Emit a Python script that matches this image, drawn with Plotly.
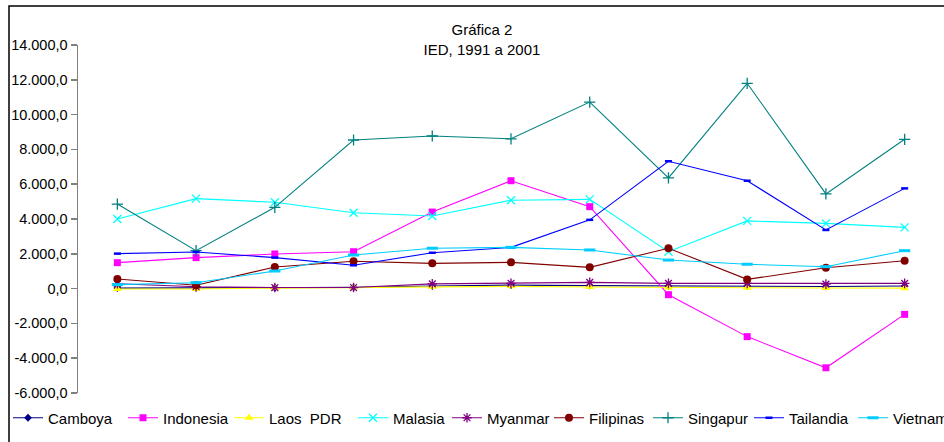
import plotly.graph_objects as go

years = [1991, 1992, 1993, 1994, 1995, 1996, 1997, 1998, 1999, 2000, 2001]

camboya = [30, 40, 50, 70, 150, 200, 170, 150, 160, 120, 150]
indonesia = [1490, 1780, 1990, 2120, 4400, 6200, 4710, -350, -2760, -4550, -1480]
laos = [-20, -20, 30, 60, 90, 130, 90, 50, 50, 35, 25]
malasia = [4000, 5170, 4960, 4360, 4170, 5080, 5130, 2120, 3890, 3750, 3520]
myanmar = [280, 110, 60, 60, 270, 300, 360, 300, 300, 260, 300]
filipinas = [550, 190, 1240, 1570, 1450, 1510, 1220, 2320, 530, 1200, 1600]
singapur = [4860, 2180, 4670, 8540, 8770, 8610, 10720, 6360, 11800, 5440, 8580]
tailandia = [2010, 2100, 1780, 1340, 2060, 2370, 3950, 7320, 6200, 3370, 5760]
vietnam = [230, 340, 1010, 1930, 2320, 2370, 2220, 1640, 1400, 1260, 2180]

series_names = ["Camboya", "Indonesia", "Laos\u00a0 PDR", "Malasia", "Myanmar",
                "Filipinas", "Singapur", "Tailandia", "Vietnam"]
series_values = [camboya, indonesia, laos, malasia, myanmar,
                 filipinas, singapur, tailandia, vietnam]

tick_values = [-6000, -4000, -2000, 0, 2000, 4000, 6000, 8000, 10000, 12000, 14000]
tick_labels = ["-6.000,0", "-4.000,0", "-2.000,0", "0,0", "2.000,0", "4.000,0",
               "6.000,0", "8.000,0", "10.000,0", "12.000,0", "14.000,0"]

title_text = "Gráfica 2<br>IED, 1991 a 2001"

# styles
colors = ["#000080", "#FF00FF", "#FFFF00", "#00FFFF", "#800080",
          "#800000", "#008080", "#0000FF", "#00CCFF"]
markers = [
    dict(symbol="diamond", size=6),
    dict(symbol="square", size=7),
    dict(symbol="triangle-up", size=8),
    dict(symbol="x-thin", size=8, line=dict(width=1.3)),
    dict(symbol="asterisk", size=8, line=dict(width=1.3)),
    dict(symbol="circle", size=8),
    dict(symbol="cross-thin", size=8, line=dict(width=1.3)),
    dict(symbol="line-ew", size=5, line=dict(width=2.5)),
    dict(symbol="line-ew", size=8, line=dict(width=3)),
]

FONT = "Liberation Sans, Arial, sans-serif"
W, H = 944, 442
L, R, T, B = 78, 0, 45, 49
plot_w = W - L - R
plot_h = H - T - B

def px_to_paper_x(px):
    return (px - L) / plot_w

def py_to_paper_y(py):
    return (H - B - py) / plot_h

legend_text_x = [47, 162, 268, 392, 486, 588, 687, 788, 892]
legend_center_y = 418

fig = go.Figure()
for i, (name, vals) in enumerate(zip(series_names, series_values)):
    mk = dict(markers[i])
    mk["color"] = colors[i]
    if "line" in mk:
        mk["line"] = dict(mk["line"], color=colors[i])
    lg = "legend" if i == 0 else f"legend{i+1}"
    fig.add_trace(go.Scatter(
        x=years, y=vals, name=name, mode="lines+markers",
        line=dict(color=colors[i], width=1.1),
        marker=mk, legend=lg,
    ))

layout_legends = {}
for i, tx in enumerate(legend_text_x):
    key = "legend" if i == 0 else f"legend{i+1}"
    layout_legends[key] = dict(
        x=px_to_paper_x(tx - 39), xref="paper", xanchor="left",
        y=py_to_paper_y(legend_center_y), yref="paper", yanchor="middle",
        orientation="h", font=dict(family=FONT, size=15, color="#000000"),
        bgcolor="rgba(0,0,0,0)", borderwidth=0, itemwidth=30,
    )

fig.update_layout(
    width=W, height=H,
    margin=dict(l=L, r=R, t=T, b=B, pad=0, autoexpand=False),
    paper_bgcolor="#FFFFFF", plot_bgcolor="#FFFFFF",
    font=dict(family=FONT, size=15, color="#000000"),
    separators=",.",
    showlegend=True,
    title=dict(text=title_text, x=482 / W, xref="container", xanchor="center",
               y=1 - 35 / H, yref="container", yanchor="top",
               font=dict(family=FONT, size=15, color="#000000")),
    xaxis=dict(range=[years[0] - 0.5, years[-1] + 0.5], visible=False,
               showgrid=False, zeroline=False),
    yaxis=dict(range=[tick_values[0], tick_values[-1]], tickvals=tick_values,
               ticktext=tick_labels, showgrid=False, zeroline=False,
               showline=True, linecolor="#808080", linewidth=1.5,
               ticks="outside", ticklen=6, tickcolor="#808080", tickwidth=1.5,
               tickfont=dict(family=FONT, size=14.5, color="#000000")),
    shapes=[dict(type="rect", xref="paper", yref="paper",
                 x0=px_to_paper_x(9), x1=px_to_paper_x(1000),
                 y0=py_to_paper_y(500), y1=py_to_paper_y(6),
                 line=dict(color="#000000", width=1.5), layer="above")],
    **layout_legends,
)

fig.write_html("out.html",
               config={"displayModeBar": False, "staticPlot": True},
               post_script="document.body.style.margin='0';document.body.style.overflow='hidden';")
